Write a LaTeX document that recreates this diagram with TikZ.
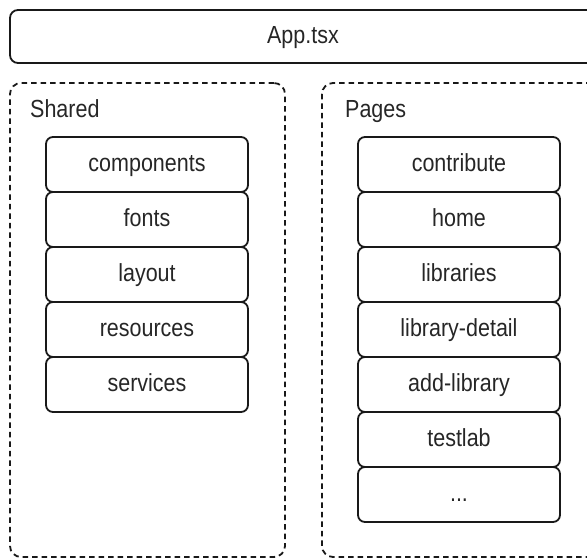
\documentclass[tikz,border=0pt]{standalone}
\usepackage{graphicx}
\usepackage{fontspec}
\setmainfont{Liberation Sans}
\newcommand{\tallstr}[1]{\scalebox{1}[1.15]{#1}}
\begin{document}
\begin{tikzpicture}[x=1pt,y=-1pt,
  txt/.style={text=black!85, font=\fontsize{21.5}{26}\selectfont, text height=19.4pt, text depth=5pt},
  item/.style={txt, draw=black!90, line width=1.8pt, rounded corners=7pt,
     anchor=north west, minimum width=202pt, minimum height=55pt, inner sep=0pt, outer sep=0pt},
  group/.style={draw=black!90, line width=1.8pt, dash pattern=on 5.5pt off 4pt, rounded corners=11pt,
     anchor=north west, minimum height=474pt, inner sep=0pt, outer sep=0pt},
  grouplabel/.style={txt, anchor=west, inner sep=0pt},
  appbox/.style={draw=black!90, line width=1.8pt, rounded corners=8pt,
     anchor=north west, minimum width=610pt, minimum height=53pt, inner sep=0pt, outer sep=0pt}]
\useasboundingbox (0,0) rectangle (587,558);
\clip (0,0) rectangle (587,558);
\node[appbox] (app) at (10,10) {};
\node[txt, inner sep=0pt] (apptxt) at (303,36) {\tallstr{App.tsx}};
\node[group, minimum width=275pt] (shared) at (10,83) {};
\node[group, minimum width=290pt] (pages) at (322,83) {};
\node[grouplabel] (sharedlbl) at (30,110) {\tallstr{Shared}};
\node[grouplabel] (pageslbl) at (345,110) {\tallstr{Pages}};
\node[item] (components) at (46,137) {\tallstr{components}};
\node[item] (fonts) at (46,192) {\tallstr{fonts}};
\node[item] (layout) at (46,247) {\tallstr{layout}};
\node[item] (resources) at (46,302) {\tallstr{resources}};
\node[item] (services) at (46,357) {\tallstr{services}};
\node[item] (contribute) at (358,137) {\tallstr{contribute}};
\node[item] (home) at (358,192) {\tallstr{home}};
\node[item] (libraries) at (358,247) {\tallstr{libraries}};
\node[item] (librarydetail) at (358,302) {\tallstr{library-detail}};
\node[item] (addlibrary) at (358,357) {\tallstr{add-library}};
\node[item] (testlab) at (358,412) {\tallstr{testlab}};
\node[item] (more) at (358,467) {\tallstr{...}};
\end{tikzpicture}
\end{document}
